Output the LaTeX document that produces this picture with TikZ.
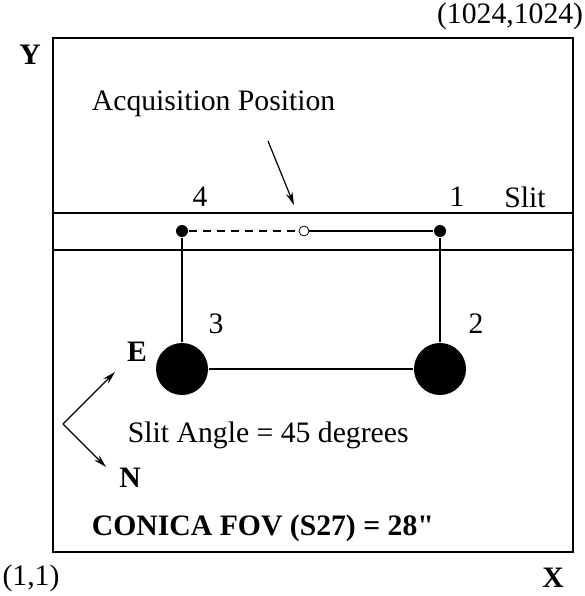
\documentclass[tikz,border=0pt]{standalone}
\usepackage{fontspec}
\setmainfont{Liberation Serif}
\newfontfamily\rawserif{Liberation Serif}
\usetikzlibrary{arrows,arrows.meta,positioning}
\tikzset{
  lbl/.style={font=\fontsize{29.7}{34}\selectfont,inner sep=0pt},
  blbl/.style={font=\fontsize{29.7}{34}\selectfont\bfseries,inner sep=0pt},
  bigdot/.style={circle,fill=black,inner sep=0pt,minimum size=52pt},
  dot/.style={circle,fill=black,inner sep=0pt,minimum size=12pt},
  opendot/.style={circle,draw,line width=0.8pt,fill=white,inner sep=0pt,minimum size=10pt},
  pointer/.style={line width=1.2pt,-{Stealth[length=13pt,width=7pt]}},
}

\begin{document}
\begin{tikzpicture}[x=1pt,y=-1pt,line width=1.8pt]
	\useasboundingbox (0,0) rectangle (584,596);
	% field of view and slit
	\draw (53,38) rectangle (573,552);
	\draw (53,213) -- (573,213);
	\draw (53,250) -- (573,250);
	
	\node[dot] (P4) at (182,231) {};
	\node[dot] (P1) at (440,231) {};
	\node[opendot] (A) at (304,231) {};
	\node[bigdot] (P3) at (182,369) {};
	\node[bigdot] (P2) at (440,369) {};
	
	\draw[dashed,dash pattern=on 8pt off 6pt] (P4)--(A);
	\draw (A)--(P1)--(P2)--(P3)--(P4);
	
	\node[lbl] (n4) at (200,197) {4};
	\node[lbl] (n1) at (457,197) {1};
	\node[lbl] (slit) at (525,197) {Slit};
	\node[lbl] (n3) at (216,324) {3};
	\node[lbl] (n2) at (476,324) {2};
	
	% acquisition arrow
	\node[lbl,anchor=west] (acq) at (91,104) {Acquisition Position};
	\coordinate (T) at (268,141);
	\coordinate (H) at (294,205);
	\draw[pointer] (T)--(H);
	
	% compass
	\coordinate (O) at (63,424);
	\coordinate (E) at (115,372);
	\coordinate (N) at (106,467);
	\draw[pointer] (O)--(E);
	\draw[pointer] (O)--(N);
	\node[blbl] (lE) at (137,352) {E};
	\node[blbl] (lN) at (130,478) {N};
	
	\node[lbl,anchor=west] (angle) at (127,435) {Slit Angle = 45 degrees};
	\node[blbl,anchor=west] (fov) at (91,528) {CONICA FOV (S27) = 28{\rawserif\bfseries"}};
	
	% corners
	\node[blbl] (Y) at (30,55) {Y};
	\node[blbl] (X) at (553,578) {X};
	\node[lbl] (c0) at (31,578) {(1,1)};
	\node[lbl,anchor=east] (c1) at (584,16) {(1024,1024)};
\end{tikzpicture}
\end{document}
